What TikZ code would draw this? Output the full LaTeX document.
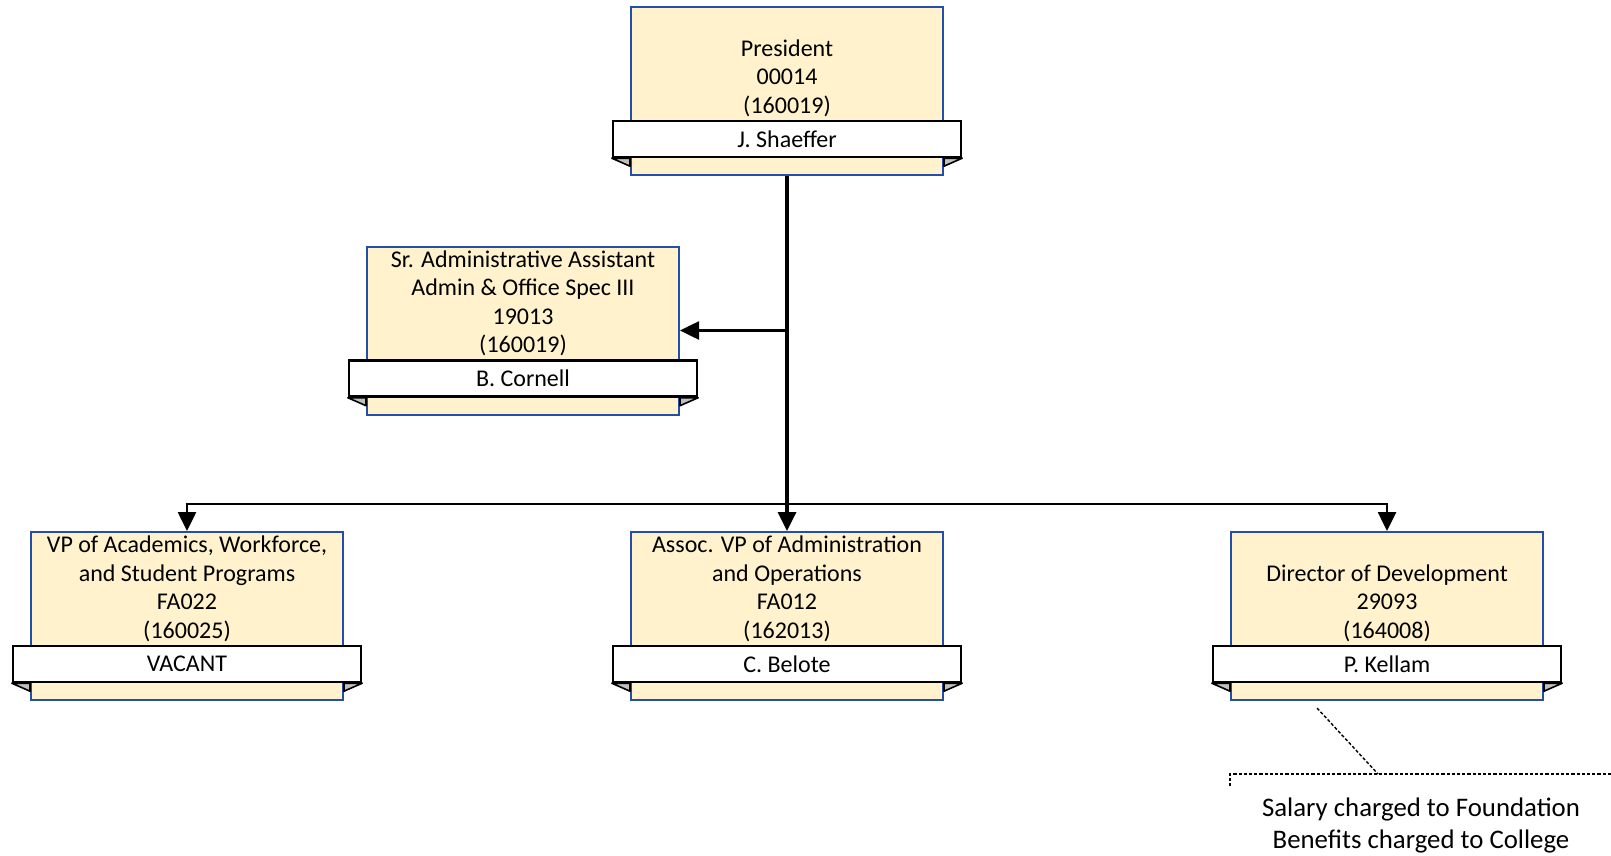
\documentclass[tikz,border=0pt]{standalone}
\usepackage{fontspec}
\setmainfont{Carlito}
\usepackage{xcolor}
\usetikzlibrary{shapes, arrows.meta, calc, positioning}
\definecolor{boxfill}{RGB}{255, 242, 204}
\definecolor{boxline}{RGB}{36, 78, 168}
\definecolor{foldgrey}{RGB}{191, 191, 191}

\begin{document}
\begin{tikzpicture}[x=0.5pt, y=-0.5pt]%{{{
        \useasboundingbox (0, 0) rectangle (1611, 856);

        \coordinate (P) at (787, 91);

        \coordinate (S)  at ($(P) + (-264, 239.5)$);
        \coordinate (V1) at ($(P) + (-600, 525)$);
        \coordinate (V2) at ($(P) + (   0, 525)$);
        \coordinate (V3) at ($(P) + ( 600, 525)$);

        \tikzstyle{b} = [draw=boxline, fill=boxfill, line width=1pt, minimum width=156pt, minimum height=84pt, inner sep=0pt];
        \tikzstyle{n} = [draw, fill=white, line width=1.2pt, minimum width=174pt, minimum height=18pt, inner sep=0pt, font=\fontsize{12pt}{14pt}\selectfont];
        \tikzstyle{f} = [draw, fill=foldgrey, line width=0.8pt, line join=round];
        \tikzstyle{t} = [align=center, inner sep=0pt, anchor=south, font=\fontsize{12pt}{14.25pt}\selectfont];

        \foreach \nm/\txt/\who in {
            P/{President\\00014\\(160019)}/{J. Shaeffer},
            S/{Sr. Administrative Assistant\\Admin \& Office Spec III\\19013\\(160019)}/{B. Cornell},
            V1/{VP of Academics, Workforce,\\and Student Programs\\FA022\\(160025)}/{VACANT},
            V2/{Assoc. VP of Administration\\and Operations\\FA012\\(162013)}/{C. Belote},
            V3/{Director of Development\\29093\\(164008)}/{P. Kellam}}{
            \node [b] (\nm box) at (\nm) { };
            \node [n] (\nm name) at ($(\nm) + (0, 48)$) {\who};
            \draw [f] (\nm name.south west) -- (\nm name.south west -| \nm box.west) --
                ($(\nm name.south west -| \nm box.west) + (0, 8)$) -- cycle;
            \draw [f] (\nm name.south east) -- (\nm name.south east -| \nm box.east) --
                ($(\nm name.south east -| \nm box.east) + (0, 8)$) -- cycle;
            \node [t] (\nm text) at ($(\nm name.north) + (0, -3)$) {\txt};
        }

        \tikzstyle{l} = [line width=1.3pt, -{Triangle[width=9pt, length=9.5pt]}];
        \coordinate (bus) at ($(P) + (0, 413)$);

        \draw [line width=1.75pt] (Pbox.south) -- (bus);
        \draw [l, line width=1.75pt] (bus) -- (V2box.north);
        \draw [l] (Pbox.south |- Sbox.east) -- (Sbox.east);
        \foreach \v in {1, 3}{
            \draw [l] (bus) -| (V\v box.north);
        }

        \tikzstyle{d} = [line width=0.7pt, dash pattern=on 1.6pt off 1pt];
        \node [align=center, inner sep=0pt, font=\fontsize{13.4pt}{16pt}\selectfont] (note) at (1421, 825)
            {Salary charged to Foundation\\Benefits charged to College};
        \coordinate (C)  at ($(V3box.south) + (-70, 7)$);
        \coordinate (Ct) at ($(note) + (-43, -51)$);
        \draw [d] (C) -- (Ct);
        \draw [d] ($(note) + (190, -51)$) -- ($(note) + (-191, -51)$) -- ($(note) + (-191, -37)$);
    \end{tikzpicture}
\end{document}
